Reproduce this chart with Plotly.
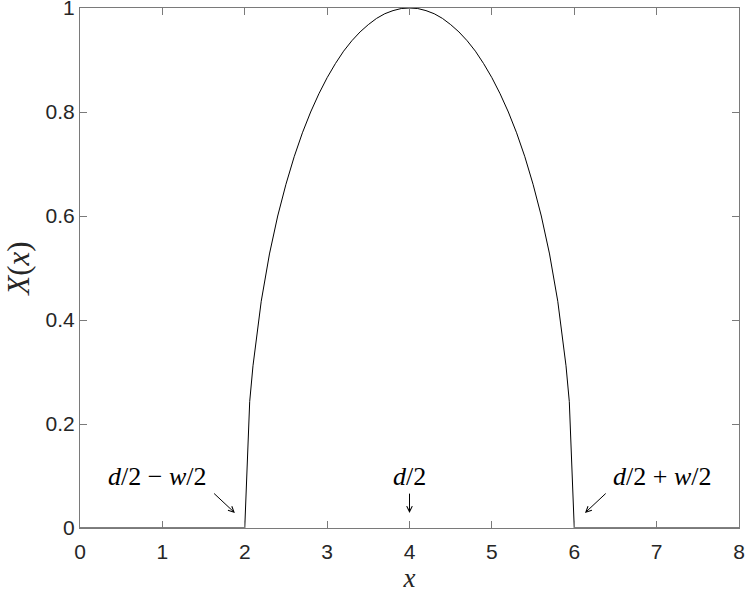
import plotly.graph_objects as go

# profile
x_vals = [0, 2.0, 2.06, 2.1, 2.2, 2.3, 2.4, 2.5, 2.6, 2.7, 2.8, 2.9, 3.0, 3.1, 3.2, 3.3, 3.4, 3.5,
          3.6, 3.7, 3.8, 3.9, 4.0, 4.1, 4.2, 4.3, 4.4, 4.5, 4.6, 4.7, 4.8, 4.9, 5.0, 5.1, 5.2,
          5.3, 5.4, 5.5, 5.6, 5.7, 5.8, 5.9, 5.94, 6.0, 8]
X_vals = [0, 0, 0.243, 0.312, 0.436, 0.527, 0.600, 0.661, 0.714, 0.760, 0.800, 0.835, 0.866,
          0.893, 0.917, 0.937, 0.954, 0.968, 0.980, 0.989, 0.995, 0.999, 1.0, 0.999, 0.995,
          0.989, 0.980, 0.968, 0.954, 0.937, 0.917, 0.893, 0.866, 0.835, 0.800, 0.760, 0.714,
          0.661, 0.600, 0.527, 0.436, 0.312, 0.243, 0, 0]

x_ticks = [0, 1, 2, 3, 4, 5, 6, 7, 8]
y_ticks = [0, 0.2, 0.4, 0.6, 0.8, 1]
y_tick_text = ['0', '0.2', '0.4', '0.6', '0.8', '1']

# labels: (text, text x, text y, arrow tail x, tail y, tip x, tip y)
marks = [
    ('<i>d</i>/2 \u2212 <i>w</i>/2', 0.93, 0.10, 1.61, 0.069, 1.88, 0.029),
    ('<i>d</i>/2', 4.0, 0.10, 4.0, 0.069, 4.0, 0.029),
    ('<i>d</i>/2 + <i>w</i>/2', 7.07, 0.10, 6.40, 0.069, 6.13, 0.029),
]

SERIF = 'Liberation Serif, Times New Roman, serif'
SANS = 'Liberation Sans, Arial, sans-serif'

fig = go.Figure()
fig.add_trace(go.Scatter(x=x_vals, y=X_vals, mode='lines',
                         line=dict(color='black', width=1), showlegend=False))

for txt, tx, ty, ax, ay, hx, hy in marks:
    fig.add_annotation(x=tx, y=ty, text=txt, showarrow=False, xref='x', yref='y',
                       font=dict(family=SERIF, size=26, color='black'))
    fig.add_annotation(x=hx, y=hy, ax=ax, ay=ay, axref='x', ayref='y', xref='x', yref='y',
                       text='', showarrow=True, arrowhead=5, arrowsize=1.1, arrowwidth=1,
                       arrowcolor='black')

axis_style = dict(showline=True, linecolor='#7a7a7a', linewidth=1, mirror='ticks',
                  ticks='inside', ticklen=7, tickcolor='#7a7a7a', showgrid=False,
                  zeroline=False, automargin=False, ticklabeloverflow='allow',
                  tickfont=dict(family=SANS, size=21, color='#262626'))

fig.update_layout(
    width=747, height=593,
    margin=dict(l=80, r=8, t=8, b=65),
    plot_bgcolor='white', paper_bgcolor='white',
    xaxis=dict(range=[0, 8], tickvals=x_ticks, ticklabelstandoff=5,
               title=dict(text='<i>x</i>', font=dict(family=SERIF, size=27, color='#262626'),
                          standoff=12),
               **axis_style),
    yaxis=dict(range=[0, 1], tickvals=y_ticks, ticktext=y_tick_text,
               title=dict(text='<i>X</i>(<i>x</i>)', font=dict(family=SERIF, size=31, color='#262626'),
                          standoff=6),
               **axis_style),
)

# drop the default page margin so the figure sits at the window's corner
fig.write_html("out.html", config={'displayModeBar': False},
               post_script="document.body.style.margin='0';")
